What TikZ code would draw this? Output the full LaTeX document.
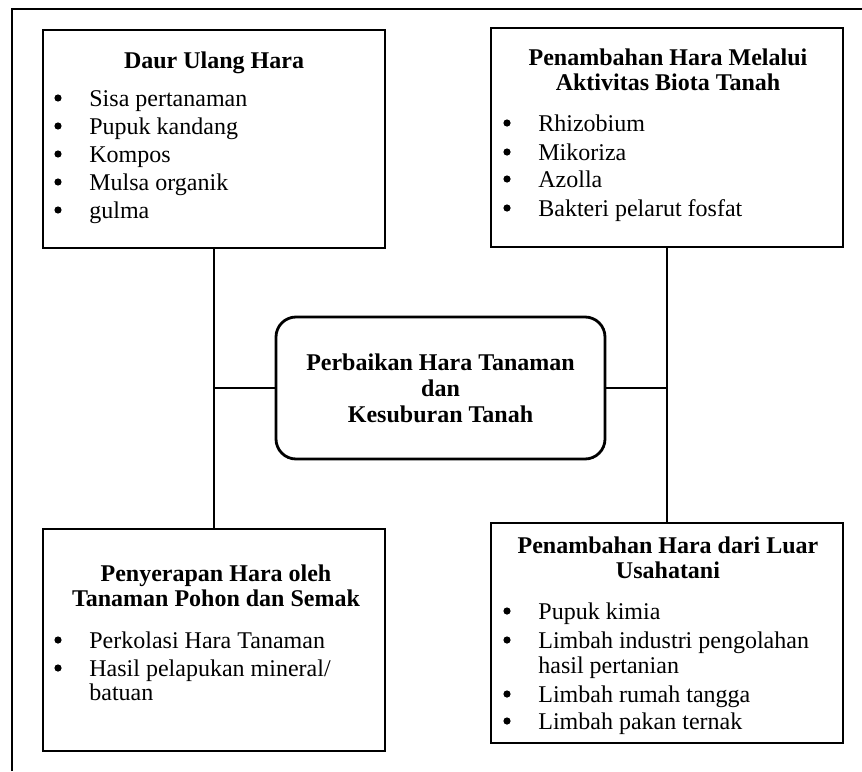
\documentclass[tikz,border=0pt]{standalone}
\usepackage{fontspec}
\setmainfont{Liberation Serif}
\begin{document}
\begin{tikzpicture}[x=0.5pt,y=-0.5pt,
  box/.style={draw, line width=1.4pt, inner sep=0pt, rectangle},
  hub/.style={draw, line width=1.4pt, inner sep=0pt, rectangle, rounded corners=10pt},
  conn/.style={line width=1.4pt},
  frame/.style={line width=0.9pt},
  ttl/.style={font=\fontsize{12}{13}\selectfont\bfseries, inner sep=0pt, anchor=base},
  itm/.style={font=\fontsize{12}{14}\selectfont, inner sep=0pt, anchor=base west},
  bul/.style={fill=black}
]
\useasboundingbox (0,0) rectangle (862,771);
% outer frame (only top and left edges visible)
\draw[frame] (12,771) -- (12,9) -- (862,9);

% boxes
\node[box, minimum width=171pt, minimum height=109pt] (daur) at (214,139) {};
\node[box, minimum width=176pt, minimum height=109.5pt] (biota) at (667,137.5) {};
\node[hub, minimum width=164.5pt, minimum height=71pt] (hub) at (440.5,388) {};
\node[box, minimum width=171pt, minimum height=111pt] (serap) at (214,640) {};
\node[box, minimum width=176pt, minimum height=110pt] (luar) at (667,633) {};

% connectors
\coordinate (jl) at (214,388);
\coordinate (jr) at (667,388);
\draw[conn] (daur.south) -- (serap.north);
\draw[conn] (biota.south) -- (luar.north);
\draw[conn] (jl) -- (hub.west);
\draw[conn] (hub.east) -- (jr);

% Daur Ulang Hara
\node[ttl] (t1) at (214,68) {Daur Ulang Hara};
\node[itm] (d1) at (89,106) {Sisa pertanaman};
\node[itm] (d2) at (89,134) {Pupuk kandang};
\node[itm] (d3) at (89,162) {Kompos};
\node[itm] (d4) at (89,190) {Mulsa organik};
\node[itm] (d5) at (89,218) {gulma};
\foreach \yy in {106,134,162,190,218} \fill[bul] (58,\yy-8) circle (1.8pt);

% Biota
\node[ttl] (t2a) at (668,65) {Penambahan Hara Melalui};
\node[ttl] (t2b) at (668,90) {Aktivitas Biota Tanah};
\node[itm] (b1) at (538,131) {Rhizobium};
\node[itm] (b2) at (538,160) {Mikoriza};
\node[itm] (b3) at (538,187) {Azolla};
\node[itm] (b4) at (538,216) {Bakteri pelarut fosfat};
\foreach \yy in {131,160,187,216} \fill[bul] (507,\yy-8) circle (1.8pt);

% Hub
\node[ttl] (h1) at (440.5,370) {Perbaikan Hara Tanaman};
\node[ttl] (h2) at (440.5,396) {dan};
\node[ttl] (h3) at (440.5,422) {Kesuburan Tanah};

% Penyerapan
\node[ttl] (t3a) at (216,581) {Penyerapan Hara oleh};
\node[ttl] (t3b) at (216,606) {Tanaman Pohon dan Semak};
\node[itm] (s1) at (89,648) {Perkolasi Hara Tanaman};
\node[itm] (s2) at (89,676) {Hasil pelapukan mineral/};
\node[itm] (s3) at (89,700) {batuan};
\foreach \yy in {648,676} \fill[bul] (58,\yy-8) circle (1.8pt);

% Luar Usahatani
\node[ttl] (t4a) at (668,553) {Penambahan Hara dari Luar};
\node[ttl] (t4b) at (668,578) {Usahatani};
\node[itm] (l1) at (538,619) {Pupuk kimia};
\node[itm] (l2) at (538,648) {Limbah industri pengolahan};
\node[itm] (l3) at (538,673) {hasil pertanian};
\node[itm] (l4) at (538,702) {Limbah rumah tangga};
\node[itm] (l5) at (538,729) {Limbah pakan ternak};
\foreach \yy in {619,648,702,729} \fill[bul] (507,\yy-8) circle (1.8pt);
\end{tikzpicture}
\end{document}
